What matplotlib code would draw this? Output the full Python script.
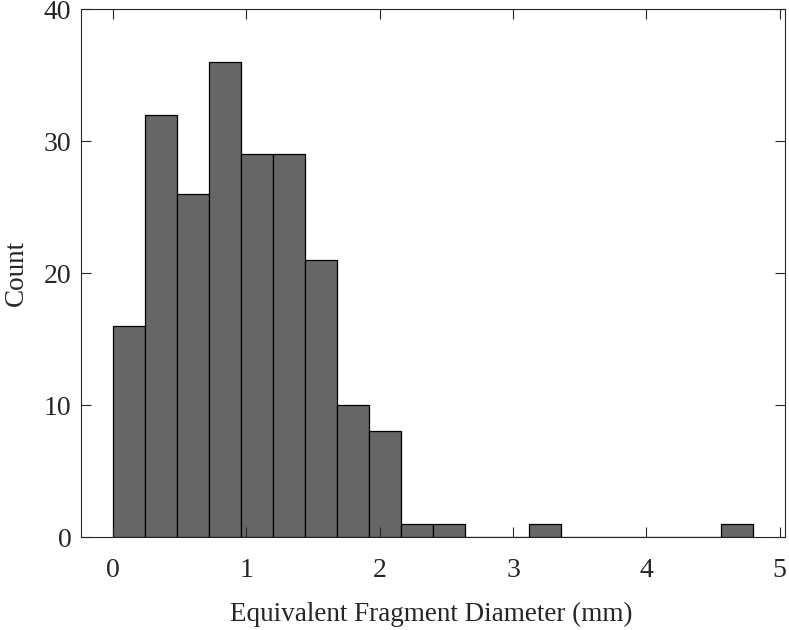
import numpy as np
import matplotlib
matplotlib.use('Agg')
import matplotlib.pyplot as plt

# histogram data
bin_edges = np.arange(0, 21) * 0.24
counts = [16, 32, 26, 36, 29, 29, 21, 10, 8, 1, 1, 0, 0, 1, 0, 0, 0, 0, 0, 1]
x_ticks = [0, 1, 2, 3, 4, 5]
y_ticks = [0, 10, 20, 30, 40]

plt.rcParams['font.family'] = ['Liberation Serif', 'DejaVu Serif']

fig = plt.figure(figsize=(7.89, 6.30), dpi=100)
ax = fig.add_axes([0.1027, 0.1476, 0.995 - 0.1027, 0.9857 - 0.1476])

centers = (bin_edges[:-1] + bin_edges[1:]) / 2
ax.hist(centers, bins=bin_edges, weights=counts, color='#666666',
        edgecolor='black', linewidth=0.9)

ax.set_xlim(-0.24, 5.04)
ax.set_ylim(0, 40)
ax.set_xticks(x_ticks)
ax.set_yticks(y_ticks)

ax.tick_params(direction='in', top=True, right=True, length=7, width=0.8,
               color='#262626', labelsize=20, labelcolor='#262626')
ax.tick_params(axis='x', pad=15)
ax.tick_params(axis='y', pad=7)
for s in ax.spines.values():
    s.set_color('#262626')
    s.set_linewidth(0.8)

ax.set_xlabel('Equivalent Fragment Diameter (mm)', fontsize=19.5, color='#262626')
ax.set_ylabel('Count', fontsize=19.5, color='#262626')
ax.xaxis.set_label_coords(0.498, -0.123)
ax.yaxis.set_label_coords(-0.074, 0.5)

fig.savefig('out.png', dpi=100)
